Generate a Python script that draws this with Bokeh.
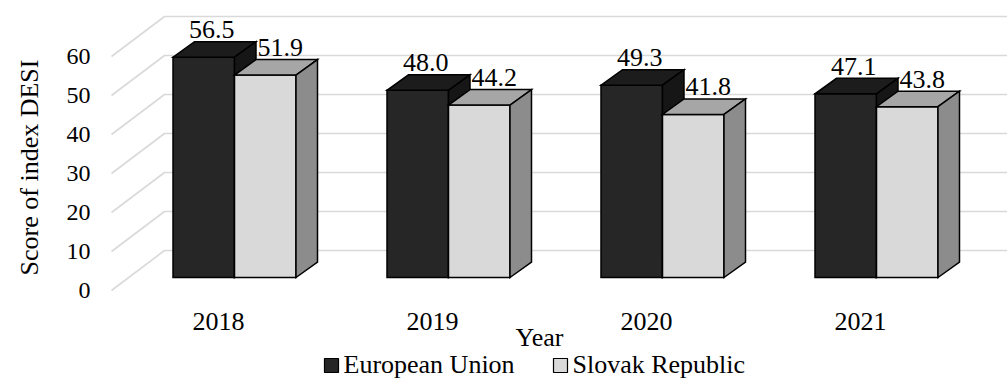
import math
import numpy as np
from bokeh.plotting import figure
from bokeh.models import Range1d, Label
from bokeh.embed import file_html
from bokeh.resources import INLINE

# DESI scores per year
years = ["2018", "2019", "2020", "2021"]
eu_scores = [56.5, 48.0, 49.3, 47.1]
sk_scores = [51.9, 44.2, 41.8, 43.8]
y_ticks = [0, 10, 20, 30, 40, 50, 60]
series_names = ["European Union", "Slovak Republic"]

FONT = "Liberation Serif"
W, H = 1007, 378

# screen scale of the oblique projection
PX_PER_CAT = 214.0   # pixels between neighbouring years
PX_PER_UNIT = 3.9    # pixels per score point
ORIGIN_X = 218.0     # pixel column of the first year on the front plane
ORIGIN_Y = 290.0     # pixel row of score 0 on the front plane


def dx(px):
    return px / PX_PER_CAT


def dy(px):
    return px / PX_PER_UNIT


x_range = Range1d(dx(-ORIGIN_X), dx(W - ORIGIN_X))
y_range = Range1d(-dy(H - ORIGIN_Y), dy(ORIGIN_Y))

# box geometry (in data units)
WALL_X = dx(-107)                  # left wall, front edge
WALL_DX, WALL_DY = dx(53), dy(40)  # depth of the whole floor
BAR_OX, BAR_OY = dx(16), dy(13)    # bars sit a bit behind the front plane
BAR_DX, BAR_DY = dx(21.5), dy(15.5)
BAR_W = dx(61.5)

p = figure(width=W, height=H, x_range=x_range, y_range=y_range,
           output_backend="svg", toolbar_location=None, title=None,
           x_axis_location=None, y_axis_location=None,
           min_border_left=0, min_border_right=0,
           min_border_top=0, min_border_bottom=0)
p.grid.visible = False
p.outline_line_color = None
p.background_fill_color = "white"
p.border_fill_color = "white"


def put_text(x, y, text, size="26px", align="center", angle=0.0):
    p.add_layout(Label(x=float(x), y=float(y), text=text, angle=angle,
                       text_font=FONT, text_font_size=size,
                       text_align=align, text_baseline="middle",
                       text_color="black"))


# walls: left-wall diagonals joined to back-wall horizontals
grid_xs, grid_ys = [], []
for t in y_ticks:
    grid_xs.append([WALL_X, WALL_X + WALL_DX, x_range.end])
    grid_ys.append([t, t + WALL_DY, t + WALL_DY])
p.multi_line(grid_xs, grid_ys, line_color="#d9d9d9", line_width=1.6)

# value-axis tick labels along the front edge of the left wall
for t in y_ticks:
    put_text(dx(90 - ORIGIN_X), t, str(t), size="24px", align="right")


def box_faces(lefts, vals):
    front_x, front_y, top_x, top_y, side_x, side_y = [], [], [], [], [], []
    for xl, v in zip(lefts, vals):
        xr = xl + BAR_W
        y0, y1 = BAR_OY, BAR_OY + v
        front_x.append([xl, xr, xr, xl])
        front_y.append([y0, y0, y1, y1])
        top_x.append([xl, xr, xr + BAR_DX, xl + BAR_DX])
        top_y.append([y1, y1, y1 + BAR_DY, y1 + BAR_DY])
        side_x.append([xr, xr + BAR_DX, xr + BAR_DX, xr])
        side_y.append([y0, y0 + BAR_DY, y1 + BAR_DY, y1])
    return (front_x, front_y), (top_x, top_y), (side_x, side_y)


cats = np.arange(len(years), dtype=float)
eu_left = cats + BAR_OX - BAR_W
sk_left = cats + BAR_OX

front_colors = ["#262626", "#d9d9d9"]
series = [
    (eu_left, eu_scores, (front_colors[0], "#1c1c1c", "#161616")),
    (sk_left, sk_scores, (front_colors[1], "#a6a6a6", "#8c8c8c")),
]
for lefts, vals, colors in series:
    for (fx, fy), col in zip(box_faces(lefts, vals), colors):
        p.patches(fx, fy, fill_color=col, line_color="black",
                  line_width=1.5, line_join="miter")

# value labels above the boxes
for lefts, vals, shift in ((eu_left, eu_scores, 8), (sk_left, sk_scores, 15)):
    for xl, v in zip(lefts, vals):
        put_text(xl + BAR_W / 2 + dx(shift), BAR_OY + v + dy(27.5), f"{v:.1f}")

# year labels on the floor
for c, yr in zip(cats, years):
    put_text(c, -dy(31), yr)

# axis titles
put_text(dx(539 - ORIGIN_X), -dy(47), "Year")
put_text(dx(29 - ORIGIN_X), dy(ORIGIN_Y - 167), "Score of index DESI", angle=math.pi / 2)

# legend: swatch + name for each series
key_x = [dx(331 - ORIGIN_X), dx(560 - ORIGIN_X)]
p.scatter(key_x, [-dy(75)] * 2, marker="square", size=14, fill_color=front_colors,
          line_color="black", line_width=1.2)
for kx, name in zip(key_x, series_names):
    put_text(kx + dx(12), -dy(73.5), name, align="left")

open("out.html", "w").write(file_html(p, INLINE))
